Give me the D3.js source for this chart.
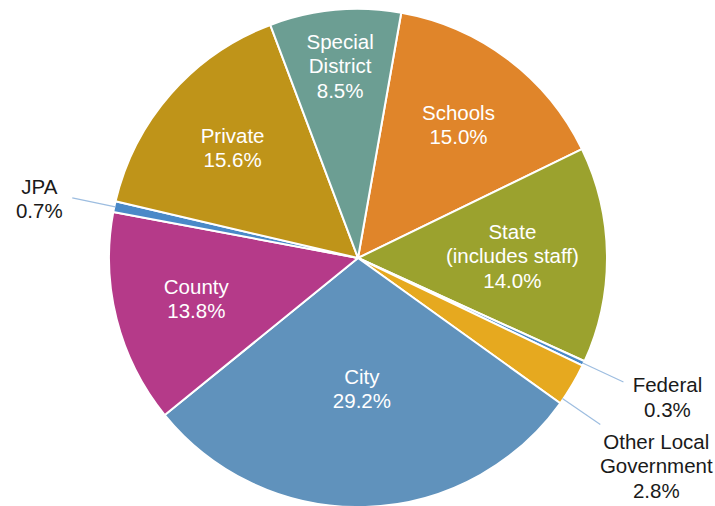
<!DOCTYPE html>
<html>
<head>
<meta charset="utf-8">
<script src="https://cdn.jsdelivr.net/npm/d3@7"></script>
<style>
    body { margin: 0; background: #fff; }
    svg { display: block; font-family: "Liberation Sans", Arial, Helvetica, sans-serif; }
</style>
</head>
<body>
<svg width="715" height="506"></svg>
<script>
// slices, clockwise starting just right of twelve o'clock
var names = ['Schools', 'State\n(includes staff)', 'Federal', 'Other Local\nGovernment', 'City', 'County', 'JPA', 'Private', 'Special\nDistrict'];
var shares = [15.0, 14.0, 0.3, 2.8, 29.2, 13.8, 0.7, 15.6, 8.5];
var colors = ['#e0852a', '#9ba22e', '#4a89c8', '#e6a91f', '#6092bc', '#b53a89', '#4a89c8', '#bf9419', '#6c9e93'];

var width = 715, height = 506;
var cx = 358, cy = 258, radius = 249;
var fontSize = 20.5, lineHeight = 24.5;

// label radius as share of pie radius (default 0.67)
var innerRadius = { 'Special\nDistrict': 0.775, 'State\n(includes staff)': 0.62, 'City': 0.525 };
// small slices get an outside label with a leader line (at = leader angle in degrees, if not the slice middle)
var outside = {
    'JPA':                       { r: 292, dx: -33, dy: -4 },
    'Federal':                   { r: 293, dx: 44, dy: 10 },
    'Other Local\nGovernment':   { r: 294, dx: 56, dy: 24, at: 124.5 }
};

var svg = d3.select('svg');
var g = svg.append('g').attr('transform', 'translate(' + cx + ',' + cy + ')');

var pie = d3.pie()
    .sort(null)
    .value(function (d) { return d.value; })
    .startAngle(10 * Math.PI / 180)
    .endAngle(10 * Math.PI / 180 + 2 * Math.PI);

var data = names.map(function (n, i) { return { name: n, value: shares[i], color: colors[i] }; });
var arcs = pie(data);

var arc = d3.arc().innerRadius(0).outerRadius(radius);

g.selectAll('path.slice')
    .data(arcs)
    .enter()
        .append('path')
        .attr('class', 'slice')
        .attr('d', arc)
        .attr('fill', function (d) { return d.data.color; })
        .attr('stroke', '#fff')
        .attr('stroke-width', 2)
        .attr('stroke-linejoin', 'round');

function polar(a, r) { return [Math.sin(a) * r, -Math.cos(a) * r]; }
function mid(d) { return (d.startAngle + d.endAngle) / 2; }

// labels inside the slices
var inner = arcs.filter(function (d) { return !outside[d.data.name]; });
inner.forEach(function (d) {
    var k = innerRadius[d.data.name] || 0.67;
    var p = polar(mid(d), radius * k);
    var lines = d.data.name.split('\n').concat([d.data.value.toFixed(1) + '%']);
    var t = g.append('text')
        .attr('text-anchor', 'middle')
        .attr('fill', '#fff')
        .attr('font-size', fontSize);
    lines.forEach(function (s, i) {
        t.append('tspan')
            .attr('x', p[0])
            .attr('y', p[1] + (i - (lines.length - 1) / 2) * lineHeight)
            .attr('dy', '0.35em')
            .text(s);
    });
});

// outside labels with leader lines
arcs.filter(function (d) { return outside[d.data.name]; }).forEach(function (d) {
    var o = outside[d.data.name];
    var a = o.at !== undefined ? o.at * Math.PI / 180 : mid(d);
    var p0 = polar(a, radius - 1);
    var p1 = polar(a, o.r);
    g.append('line')
        .attr('x1', p0[0]).attr('y1', p0[1])
        .attr('x2', p1[0]).attr('y2', p1[1])
        .attr('stroke', '#9dbde0')
        .attr('stroke-width', 1.2);
    var lines = d.data.name.split('\n').concat([d.data.value.toFixed(1) + '%']);
    var t = g.append('text')
        .attr('text-anchor', 'middle')
        .attr('fill', '#1a1a1a')
        .attr('font-size', fontSize);
    lines.forEach(function (s, i) {
        t.append('tspan')
            .attr('x', p1[0] + o.dx)
            .attr('y', p1[1] + o.dy + i * lineHeight)
            .text(s);
    });
});
</script>
</body>
</html>
